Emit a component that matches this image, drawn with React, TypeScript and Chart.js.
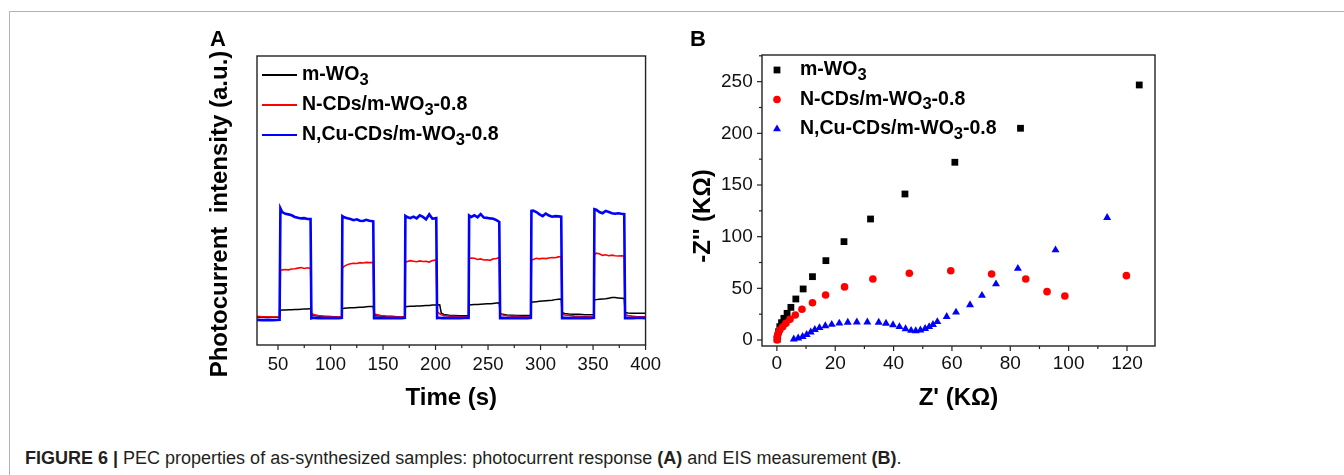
import React, { useEffect, useRef } from 'react';
import { Chart, registerables } from 'chart.js';

Chart.register(...registerables);

const FONT = "'Liberation Sans', Arial, Helvetica, sans-serif";

// ---------- Panel A: photocurrent response ----------
const TIME_S = [
  30, 35, 40, 45, 51.5,
  52.3, 54, 57, 60, 63, 66, 69, 72, 75, 78, 81,
  81.8, 84, 88, 93, 98, 103, 108, 110.8,
  111.3, 113, 116, 119, 122, 125, 128, 131, 134, 137, 140.7,
  141.5, 144, 148, 153, 158, 163, 168, 170.8,
  171.3, 173, 176, 179, 182, 185, 188, 191, 194, 197, 200.7,
  201.5, 204, 205.5, 208, 213, 218, 223, 228, 231.5,
  232, 234, 237, 240, 243, 246, 249, 252, 255, 258, 260.7,
  261.5, 264, 268, 273, 278, 283, 288, 290.8,
  291.3, 293, 296, 299, 302, 305, 308, 311, 314, 317, 319.7,
  320.5, 323, 327, 332, 337, 342, 347, 350.8,
  351.3, 353, 356, 359, 362, 365, 368, 371, 374, 377, 379.7,
  380.5, 383, 387, 392, 396, 400,
];

const PC_MWO3 = [
  9.6, 9.6, 9.6, 9.6, 9.6,
  12.0, 12.1, 12.1, 12.2, 12.2, 12.3, 12.3, 12.4, 12.5, 12.5, 12.6,
  10.4, 10.2, 10.0, 9.9, 9.8, 9.8, 9.8, 9.8,
  12.6, 12.7, 12.8, 12.9, 12.9, 13.0, 13.1, 13.1, 13.2, 13.3, 13.3,
  10.3, 10.1, 10.0, 9.9, 9.9, 9.8, 9.8, 9.8,
  13.2, 13.3, 13.4, 13.4, 13.5, 13.5, 13.6, 13.7, 13.7, 13.8, 13.8,
  13.8, 13.9, 11.0, 10.6, 10.3, 10.2, 10.1, 10.1, 10.1,
  13.8, 13.9, 14.0, 14.0, 14.1, 14.2, 14.3, 14.3, 14.4, 14.5, 14.6,
  10.9, 10.6, 10.4, 10.3, 10.2, 10.2, 10.2, 10.2,
  14.8, 14.9, 15.0, 15.1, 15.2, 15.3, 15.4, 15.5, 15.7, 15.8, 15.9,
  11.2, 10.9, 10.7, 10.6, 10.6, 10.5, 10.5, 10.5,
  15.6, 15.7, 15.8, 15.9, 16.0, 16.2, 16.4, 16.4, 16.3, 16.2, 16.1,
  11.3, 11.1, 11.0, 11.0, 11.0, 11.0,
];

const PC_NCDS = [
  9.9, 9.8, 9.8, 9.7, 9.8,
  25.8, 26.0, 26.1, 26.0, 26.3, 26.4, 26.6, 26.8, 26.5, 26.7, 26.5,
  11.0, 10.5, 10.2, 10.0, 9.9, 9.8, 9.8, 9.8,
  26.6, 27.2, 27.8, 28.1, 28.3, 28.2, 28.5, 28.4, 28.6, 28.5, 28.6,
  10.9, 10.5, 10.2, 10.0, 9.9, 9.8, 9.8, 9.8,
  28.5, 28.9, 29.2, 29.0, 28.8, 29.1, 28.9, 29.0, 28.7, 29.2, 29.4,
  11.6, 10.8, 10.5, 10.2, 10.0, 9.9, 9.8, 9.8, 9.8,
  29.8, 30.1, 30.0, 29.6, 29.8, 29.4, 29.5, 29.3, 29.8, 29.9, 30.3,
  10.8, 10.4, 10.1, 10.0, 9.9, 9.8, 9.8, 9.8,
  29.3, 29.6, 30.0, 29.8, 30.0, 29.9, 30.1, 30.3, 30.2, 30.5, 30.6,
  10.8, 10.4, 10.2, 10.0, 9.9, 9.8, 9.8, 9.8,
  31.2, 31.8, 31.6, 31.0, 31.2, 30.9, 31.1, 30.9, 30.8, 30.9, 30.8,
  10.6, 10.2, 10.0, 9.8, 9.8, 9.8,
];

const PC_NCUCDS = [
  8.7, 8.6, 8.7, 8.6, 8.7,
  47.3, 46.0, 45.4, 45.2, 44.9, 44.3, 44.0, 43.8, 43.9, 43.6, 43.6,
  9.2, 9.4, 9.3, 9.4, 9.3, 9.4, 9.3, 9.4,
  44.6, 44.2, 43.9, 43.6, 43.2, 43.5, 43.0, 42.9, 43.3, 43.0, 42.8,
  9.3, 9.4, 9.3, 9.4, 9.3, 9.4, 9.3, 9.4,
  44.7, 44.3, 43.9, 44.4, 43.8, 44.9, 44.3, 43.5, 45.2, 43.7, 43.9,
  9.3, 9.4, 9.3, 9.4, 9.3, 9.4, 9.3, 9.4, 9.4,
  44.8, 44.3, 44.9, 44.2, 45.3, 44.1, 44.0, 43.8, 43.7, 43.2, 42.6,
  9.3, 9.4, 9.3, 9.4, 9.3, 9.4, 9.3, 9.4,
  46.4, 46.5, 46.0, 45.2, 44.6, 45.5, 44.8, 44.4, 44.6, 44.5, 44.4,
  9.3, 9.4, 9.3, 9.4, 9.3, 9.4, 9.3, 9.4,
  47.0, 46.8, 46.0, 45.6, 46.4, 46.0, 45.6, 45.4, 45.6, 45.4, 45.3,
  9.3, 9.4, 9.3, 9.4, 9.4, 9.3,
];

const TIME_TICKS = [50, 100, 150, 200, 250, 300, 350, 400];

// ---------- Panel B: EIS Nyquist ----------
const EIS_MWO3_X = [0.1, 0.3, 0.6, 1.0, 1.6, 2.4, 3.5, 4.8, 6.5, 9.0, 12.2, 16.8, 23.0, 32.1, 43.9, 61.0, 83.5, 124.2];
const EIS_MWO3_Y = [0.6, 3.9, 8.1, 12.9, 16.8, 21.0, 25.8, 31.6, 39.7, 49.4, 61.3, 76.8, 95.2, 117.1, 141.3, 172.0, 204.9, 246.8];

const EIS_NCDS_X = [0.1, 0.1, 0.5, 1.0, 2.0, 3.1, 4.5, 6.3, 8.6, 12.2, 16.7, 23.2, 32.9, 45.4, 59.6, 73.6, 85.3, 92.6, 98.7, 119.8];
const EIS_NCDS_Y = [0.0, 3.2, 6.5, 9.7, 12.9, 16.1, 20.0, 24.2, 29.7, 36.0, 43.6, 51.4, 59.0, 64.6, 67.0, 63.9, 59.0, 46.8, 42.6, 62.3];

const EIS_NCUCDS_X = [5.8, 7.3, 8.8, 10.2, 11.6, 13.0, 14.6, 16.6, 18.8, 21.4, 24.3, 27.4, 31.0, 34.9, 37.4, 39.8, 42.0, 44.1, 46.0, 47.6, 49.2, 50.8, 52.2, 53.5, 55.0, 58.2, 61.4, 66.2, 70.3, 75.1, 82.6, 95.5, 113.2];
const EIS_NCUCDS_Y = [0.9, 1.8, 3.2, 5.2, 7.6, 10.0, 11.8, 13.6, 15.0, 16.2, 17.1, 17.3, 17.3, 17.0, 16.0, 14.6, 12.8, 10.8, 9.2, 8.8, 9.6, 11.0, 12.8, 14.8, 17.6, 22.6, 26.8, 34.0, 43.0, 54.2, 69.2, 87.1, 118.4];

const ZRE_TICKS = [0, 20, 40, 60, 80, 100, 120];
const ZIM_TICKS = [0, 50, 100, 150, 200, 250];

const SERIES_NAMES = ['m-WO3', 'N-CDs/m-WO3-0.8', 'N,Cu-CDs/m-WO3-0.8'];
const SERIES_COLORS = ['#000000', '#ff0000', '#0000ff'];
const POINT_STYLES = ['rect', 'circle', 'triangle'];

// ---------- drawing helpers ----------
function drawRichLabel(ctx: CanvasRenderingContext2D, text: string, x: number, y: number, size: number) {
  const idx = text.indexOf('WO3');
  const main = `bold ${size}px ${FONT}`;
  const sub = `bold ${size * 0.85}px ${FONT}`;
  ctx.textAlign = 'left';
  ctx.textBaseline = 'middle';
  ctx.fillStyle = '#000';
  if (idx < 0) {
    ctx.font = main;
    ctx.fillText(text, x, y);
    return;
  }
  const before = text.slice(0, idx + 2);
  const after = text.slice(idx + 3);
  ctx.font = main;
  ctx.fillText(before, x, y);
  let cx = x + ctx.measureText(before).width;
  ctx.font = sub;
  ctx.fillText('3', cx, y + size * 0.27);
  cx += ctx.measureText('3').width;
  ctx.font = main;
  ctx.fillText(after, cx, y);
}

function drawMarker(ctx: CanvasRenderingContext2D, style: string, x: number, y: number, r: number, color: string) {
  ctx.fillStyle = color;
  ctx.beginPath();
  if (style === 'rect') {
    const h = Math.SQRT1_2 * r;
    ctx.rect(x - h, y - h, 2 * h, 2 * h);
  } else if (style === 'triangle') {
    ctx.moveTo(x, y - r);
    ctx.lineTo(x + 0.866 * r, y + 0.5 * r);
    ctx.lineTo(x - 0.866 * r, y + 0.5 * r);
    ctx.closePath();
  } else {
    ctx.arc(x, y, r, 0, Math.PI * 2);
  }
  ctx.fill();
}

const decorPlugin = {
  id: 'decor',
  afterDraw(chart: any, _args: any, opts: any) {
    const ctx: CanvasRenderingContext2D = chart.ctx;
    const ca = chart.chartArea;
    ctx.save();
    // tick marks (major + minor, outward)
    for (const t of opts.tickMarks || []) {
      const scale = chart.scales[t.axis];
      const horizontal = scale.isHorizontal();
      ctx.strokeStyle = opts.frameColor;
      ctx.lineWidth = t.width;
      const k0 = Math.ceil(scale.min / t.minor - 1e-9);
      for (let k = k0; k * t.minor <= scale.max + 1e-9; k++) {
        const v = k * t.minor;
        const ratio = v / t.major;
        const isMajor = Math.abs(ratio - Math.round(ratio)) < 1e-6;
        const len = isMajor ? t.majorLen : t.minorLen;
        const p = scale.getPixelForValue(v);
        ctx.beginPath();
        if (horizontal) {
          ctx.moveTo(p, ca.bottom);
          ctx.lineTo(p, ca.bottom + len);
        } else {
          ctx.moveTo(ca.left, p);
          ctx.lineTo(ca.left - len, p);
        }
        ctx.stroke();
      }
    }
    // frame
    ctx.strokeStyle = opts.frameColor;
    ctx.lineWidth = opts.frameWidth;
    ctx.strokeRect(ca.left, ca.top, ca.right - ca.left, ca.bottom - ca.top);
    // rotated y title
    if (opts.yTitle) {
      const yt = opts.yTitle;
      ctx.save();
      ctx.translate(yt.x, yt.y);
      ctx.rotate(-Math.PI / 2);
      ctx.font = `bold ${yt.size}px ${FONT}`;
      ctx.fillStyle = '#000';
      ctx.textAlign = 'center';
      ctx.textBaseline = 'middle';
      ctx.fillText(yt.text, 0, 0);
      ctx.restore();
    }
    // legend
    const lg = opts.legend;
    if (lg) {
      chart.data.datasets.forEach((ds: any, i: number) => {
        const y = ca.top + lg.top + i * lg.rowGap;
        const x0 = ca.left + lg.left;
        if (lg.kind === 'line') {
          ctx.strokeStyle = ds.borderColor;
          ctx.lineWidth = lg.lineWidth;
          ctx.beginPath();
          ctx.moveTo(x0, y);
          ctx.lineTo(x0 + lg.sampleWidth, y);
          ctx.stroke();
        } else {
          drawMarker(ctx, ds.pointStyle, x0, y, ds.pointRadius, ds.backgroundColor);
        }
        drawRichLabel(ctx, ds.label, ca.left + lg.textLeft, y, lg.fontSize);
      });
    }
    ctx.restore();
  },
};

function pairs(xs: number[], ys: number[]) {
  return xs.map((x, i) => ({ x, y: ys[i] }));
}

export default function App() {
  const refA = useRef<HTMLCanvasElement>(null);
  const refB = useRef<HTMLCanvasElement>(null);

  useEffect(() => {
    document.body.style.margin = '0';
    document.body.style.overflow = 'hidden';
    Chart.defaults.font.family = FONT;

    const pcSeries = [PC_MWO3, PC_NCDS, PC_NCUCDS];
    const widths = [1.5, 1.6, 2.6];
    const chartA = new Chart(refA.current as HTMLCanvasElement, {
      type: 'line',
      data: {
        datasets: pcSeries.map((vals, i) => ({
          label: SERIES_NAMES[i],
          data: pairs(TIME_S, vals),
          borderColor: SERIES_COLORS[i],
          backgroundColor: SERIES_COLORS[i],
          borderWidth: widths[i],
          pointRadius: 0,
          tension: 0,
          order: 2 - i,
        })),
      },
      options: {
        responsive: false,
        animation: false,
        layout: { padding: { left: 0, top: 36, right: 21, bottom: 0 } },
        plugins: {
          legend: { display: false },
          tooltip: { enabled: false },
          decor: {
            frameColor: '#222',
            frameWidth: 1.4,
            tickMarks: [{ axis: 'x', major: 50, minor: 25, majorLen: 5, minorLen: 3, width: 1.2 }],
            yTitle: { text: 'Photocurrent  intensity (a.u.)', x: 20, y: 194, size: 24 },
            legend: { kind: 'line', left: 5, top: 19, rowGap: 30, sampleWidth: 35, lineWidth: 2, textLeft: 45, fontSize: 19.5 },
          },
        } as any,
        scales: {
          x: {
            type: 'linear',
            min: 30,
            max: 400,
            afterBuildTicks: (s: any) => { s.ticks = TIME_TICKS.map((v) => ({ value: v })); },
            afterFit: (s: any) => { s.height = 75; },
            grid: { display: false, drawTicks: false },
            border: { display: false },
            ticks: { font: { family: FONT, size: 18.5 }, color: '#111', padding: 9, maxRotation: 0, autoSkip: false },
            title: { display: true, text: 'Time (s)', color: '#000', font: { family: FONT, size: 24, weight: 'bold' }, padding: { top: 0, bottom: 7.6 } },
          },
          y: {
            type: 'linear',
            min: 0,
            max: 100,
            afterFit: (s: any) => { s.width = 57; },
            grid: { display: false, drawTicks: false },
            border: { display: false },
            ticks: { display: false },
          },
        },
      } as any,
      plugins: [decorPlugin],
    });

    const eis = [[EIS_MWO3_X, EIS_MWO3_Y], [EIS_NCDS_X, EIS_NCDS_Y], [EIS_NCUCDS_X, EIS_NCUCDS_Y]];
    const radii = [4.8, 3.8, 4.6];
    const chartB = new Chart(refB.current as HTMLCanvasElement, {
      type: 'scatter',
      data: {
        datasets: eis.map(([xs, ys], i) => ({
          label: SERIES_NAMES[i],
          data: pairs(xs, ys),
          backgroundColor: SERIES_COLORS[i],
          borderColor: SERIES_COLORS[i],
          borderWidth: 0,
          pointStyle: POINT_STYLES[i],
          pointRadius: radii[i],
          pointBorderWidth: 0,
          order: 2 - i,
        })),
      },
      options: {
        responsive: false,
        animation: false,
        layout: { padding: { left: 0, top: 35, right: 5, bottom: 0 } },
        plugins: {
          legend: { display: false },
          tooltip: { enabled: false },
          decor: {
            frameColor: '#222',
            frameWidth: 1.4,
            tickMarks: [
              { axis: 'x', major: 20, minor: 10, majorLen: 5, minorLen: 3, width: 1.2 },
              { axis: 'y', major: 50, minor: 25, majorLen: 5, minorLen: 3, width: 1.2 },
            ],
            yTitle: { text: "-Z'' (KΩ)", x: 23, y: 196, size: 24 },
            legend: { kind: 'marker', left: 15, top: 15, rowGap: 29.5, textLeft: 38, fontSize: 19.5 },
          },
        } as any,
        scales: {
          x: {
            type: 'linear',
            min: -5.1,
            max: 129.6,
            afterBuildTicks: (s: any) => { s.ticks = ZRE_TICKS.map((v) => ({ value: v })); },
            afterFit: (s: any) => { s.height = 74; },
            grid: { display: false, drawTicks: false },
            border: { display: false },
            ticks: { font: { family: FONT, size: 19 }, color: '#111', padding: 6.6, maxRotation: 0, autoSkip: false },
            title: { display: true, text: "Z' (KΩ)", color: '#000', font: { family: FONT, size: 24, weight: 'bold' }, padding: { top: 0, bottom: 7.6 } },
          },
          y: {
            type: 'linear',
            min: -5.8,
            max: 275.8,
            afterBuildTicks: (s: any) => { s.ticks = ZIM_TICKS.map((v) => ({ value: v })); },
            afterFit: (s: any) => { s.width = 82; },
            grid: { display: false, drawTicks: false },
            border: { display: false },
            ticks: { font: { family: FONT, size: 19 }, color: '#111', padding: 9.3, autoSkip: false },
          },
        },
      } as any,
      plugins: [decorPlugin],
    });

    return () => {
      chartA.destroy();
      chartB.destroy();
    };
  }, []);

  return (
    <div style={{ position: 'absolute', left: 0, top: 0, width: 1344, height: 475, background: '#fff', overflow: 'hidden', fontFamily: FONT }}>
      <div style={{ position: 'absolute', left: 9, top: 11, width: 1335, height: 464, borderTop: '1.5px solid #b3b3b3', borderLeft: '1.5px solid #b3b3b3', boxSizing: 'border-box' }} />
      <canvas ref={refA} width={470} height={400} style={{ position: 'absolute', left: 200, top: 20 }} />
      <canvas ref={refB} width={480} height={400} style={{ position: 'absolute', left: 680, top: 20 }} />
      <div style={{ position: 'absolute', left: 210, top: 28, fontSize: 22, fontWeight: 'bold', lineHeight: '22px', color: '#000' }}>A</div>
      <div style={{ position: 'absolute', left: 690, top: 28, fontSize: 22, fontWeight: 'bold', lineHeight: '22px', color: '#000' }}>B</div>
      <div style={{ position: 'absolute', left: 25, top: 448, fontSize: 18, lineHeight: '20px', color: '#231f20', whiteSpace: 'nowrap' }}>
        <b>FIGURE 6 |</b> PEC properties of as-synthesized samples: photocurrent response <b>(A)</b> and EIS measurement <b>(B)</b>.
      </div>
    </div>
  );
}
